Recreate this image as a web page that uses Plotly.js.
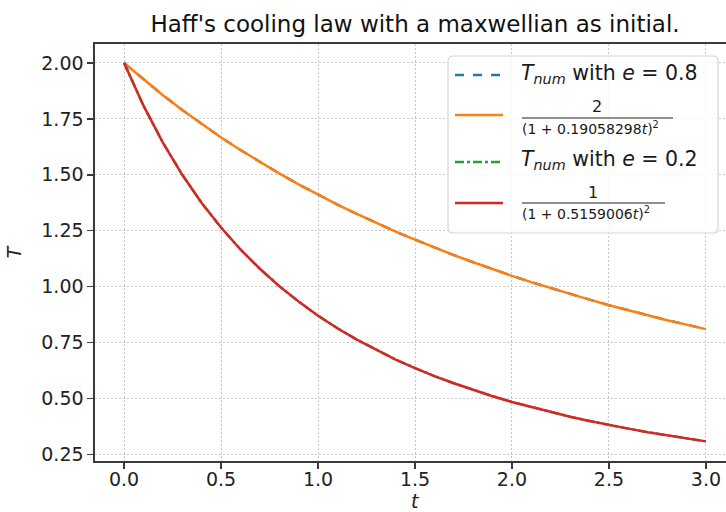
<!DOCTYPE html>
<html>
<head>
<meta charset="utf-8">
<script src="https://cdn.plot.ly/plotly-3.0.1.min.js"></script>
<style>
html, body { margin: 0; padding: 0; overflow: hidden; background: #fff; }
#chart { width: 735px; height: 512px; }
</style>
</head>
<body>
<div id="chart"></div>
<script>
// time samples
var tValues = [0.0, 0.1, 0.2, 0.3, 0.4, 0.5, 0.6, 0.7, 0.8, 0.9, 1.0,
               1.1, 1.2, 1.3, 1.4, 1.5, 1.6, 1.7, 1.8, 1.9, 2.0,
               2.1, 2.2, 2.3, 2.4, 2.5, 2.6, 2.7, 2.8, 2.9, 3.0];

// e = 0.8 : numerical and Haff law (curves overlap)
var tNumE08 = [2.000, 1.926, 1.856, 1.790, 1.727, 1.667, 1.611, 1.557, 1.506, 1.457, 1.411,
               1.367, 1.325, 1.285, 1.246, 1.210, 1.175, 1.141, 1.109, 1.078, 1.048,
               1.020, 0.993, 0.967, 0.942, 0.917, 0.894, 0.872, 0.850, 0.830, 0.810];
var haffE08 = [2.000, 1.926, 1.856, 1.790, 1.727, 1.667, 1.611, 1.557, 1.506, 1.457, 1.411,
               1.367, 1.325, 1.285, 1.246, 1.210, 1.175, 1.141, 1.109, 1.078, 1.048,
               1.020, 0.993, 0.967, 0.942, 0.917, 0.894, 0.872, 0.850, 0.830, 0.810];

// e = 0.2 : numerical and Haff law (curves overlap)
var tNumE02 = [2.000, 1.809, 1.644, 1.500, 1.374, 1.264, 1.166, 1.080, 1.002, 0.933, 0.870,
               0.814, 0.763, 0.717, 0.674, 0.636, 0.600, 0.568, 0.538, 0.510, 0.484,
               0.461, 0.439, 0.418, 0.399, 0.381, 0.365, 0.349, 0.335, 0.321, 0.308];
var haffE02 = [2.000, 1.809, 1.644, 1.500, 1.374, 1.264, 1.166, 1.080, 1.002, 0.933, 0.870,
               0.814, 0.763, 0.717, 0.674, 0.636, 0.600, 0.568, 0.538, 0.510, 0.484,
               0.461, 0.439, 0.418, 0.399, 0.381, 0.365, 0.349, 0.335, 0.321, 0.308];

var xTicks = [0.0, 0.5, 1.0, 1.5, 2.0, 2.5, 3.0];
var xTickText = ['0.0', '0.5', '1.0', '1.5', '2.0', '2.5', '3.0'];
var yTicks = [0.25, 0.50, 0.75, 1.00, 1.25, 1.50, 1.75, 2.00];
var yTickText = ['0.25', '0.50', '0.75', '1.00', '1.25', '1.50', '1.75', '2.00'];

// legend texts
var NB = '\u00a0';
var legendNames = ['<i>T<sub>num</sub></i> with <i>e</i>' + NB + '=' + NB + '0.8',
                   '2', '(1 + 0.19058298<i>t</i>)<sup>2</sup>',
                   '<i>T<sub>num</sub></i> with <i>e</i>' + NB + '=' + NB + '0.2',
                   '1', '(1 + 0.5159006<i>t</i>)<sup>2</sup>'];
var colors = ['#1f77b4', '#ff7f0e', '#2ca02c', '#d62728'];

// ---------- geometry of the plot area (pixels) ----------
var W = 735, H = 512;
var M = {l: 95, r: 0, t: 44, b: 51};
var PW = W - M.l - M.r, PH = H - M.t - M.b;
function px(x) { return (x - M.l) / PW; }
function py(y) { return (H - M.b - y) / PH; }

var traces = [
  {x: tValues, y: tNumE08, mode: 'lines', name: 'Tnum e=0.8',
   line: {color: colors[0], width: 2.5, dash: 'dash'}},
  {x: tValues, y: haffE08, mode: 'lines', name: 'Haff e=0.8',
   line: {color: colors[1], width: 2.5}},
  {x: tValues, y: tNumE02, mode: 'lines', name: 'Tnum e=0.2',
   line: {color: colors[2], width: 2.5, dash: 'dashdot'}},
  {x: tValues, y: haffE02, mode: 'lines', name: 'Haff e=0.2',
   line: {color: colors[3], width: 2.5}}
];

// ---------- manual legend (box, sample lines, fraction bars) ----------
function roundedRect(x0, y0, x1, y1, r) {
  var X0 = px(x0), X1 = px(x1), Y0 = py(y0), Y1 = py(y1);
  var rx = r / PW, ry = r / PH;
  return 'M' + (X0 + rx) + ',' + Y0 +
         ' L' + (X1 - rx) + ',' + Y0 + ' Q' + X1 + ',' + Y0 + ' ' + X1 + ',' + (Y0 - ry) +
         ' L' + X1 + ',' + (Y1 + ry) + ' Q' + X1 + ',' + Y1 + ' ' + (X1 - rx) + ',' + Y1 +
         ' L' + (X0 + rx) + ',' + Y1 + ' Q' + X0 + ',' + Y1 + ' ' + X0 + ',' + (Y1 + ry) +
         ' L' + X0 + ',' + (Y0 - ry) + ' Q' + X0 + ',' + Y0 + ' ' + (X0 + rx) + ',' + Y0 + ' Z';
}
var shapes = [
  {type: 'path', xref: 'paper', yref: 'paper', path: roundedRect(448, 56, 718, 233, 5),
   fillcolor: 'rgba(255,255,255,0.8)', line: {color: '#d6d6d6', width: 1.2}, layer: 'above'}
];
var sampleY = [75, 115, 162, 203];
var dashes = ['dash', 'solid', 'dashdot', 'solid'];
for (var i = 0; i < 4; i++) {
  shapes.push({type: 'line', xref: 'paper', yref: 'paper',
    x0: px(455), x1: px(503), y0: py(sampleY[i]), y1: py(sampleY[i]),
    line: {color: colors[i], width: 2.5, dash: dashes[i]}, layer: 'above'});
}
// fraction bars
shapes.push({type: 'line', xref: 'paper', yref: 'paper', x0: px(522), x1: px(673),
  y0: py(118), y1: py(118), line: {color: '#222', width: 1.2}, layer: 'above'});
shapes.push({type: 'line', xref: 'paper', yref: 'paper', x0: px(522), x1: px(665),
  y0: py(203), y1: py(203), line: {color: '#222', width: 1.2}, layer: 'above'});

var bigF = {family: 'DejaVu Sans', size: 20.5, color: '#1a1a1a'};
var numF = {family: 'DejaVu Sans', size: 16, color: '#1a1a1a'};
var smF = {family: 'DejaVu Sans', size: 14, color: '#1a1a1a'};
function ann(text, x, y, anchor, font) {
  return {text: text, xref: 'paper', yref: 'paper', x: px(x), y: py(y),
          xanchor: anchor, yanchor: 'middle', showarrow: false, font: font};
}
var annotations = [
  ann(legendNames[0], 519, 74, 'left', bigF),
  ann(legendNames[1], 597, 107, 'center', numF),
  ann(legendNames[2], 520, 128, 'left', smF),
  ann(legendNames[3], 519, 160, 'left', bigF),
  ann(legendNames[4], 593, 192, 'center', numF),
  ann(legendNames[5], 520, 213, 'left', smF),
  // x axis title
  ann('<i>t</i>', 415, 501, 'center', {family: 'DejaVu Sans', size: 19, color: '#222'})
];

var axisCommon = {
  showline: true, mirror: true, linecolor: '#3a3a3a', linewidth: 1.6,
  ticks: 'outside', ticklen: 6, tickwidth: 1.5, tickcolor: '#3a3a3a',
  showgrid: true, gridcolor: '#c8c8c8', griddash: '2px,2px', gridwidth: 1,
  zeroline: false,
  tickfont: {family: 'DejaVu Sans', size: 19, color: '#222'}
};

var layout = {
  width: W, height: H,
  margin: {l: M.l, r: M.r, t: M.t, b: M.b, pad: 0},
  paper_bgcolor: '#fff', plot_bgcolor: '#fff',
  title: {text: "Haff's cooling law with a maxwellian as initial.",
          font: {family: 'DejaVu Sans', size: 23, color: '#111'},
          x: 0.5, xref: 'paper', xanchor: 'center', y: 1 - 24 / H, yref: 'container', yanchor: 'middle'},
  xaxis: Object.assign({}, axisCommon, {
    range: [-0.15, 3.15], tickvals: xTicks, ticktext: xTickText, automargin: false,
    ticklabelstandoff: -5
  }),
  yaxis: Object.assign({}, axisCommon, {
    range: [0.2203, 2.0848], tickvals: yTicks, ticktext: yTickText, automargin: false,
    title: {text: '<i>T</i>', font: {family: 'DejaVu Sans', size: 19, color: '#222'}, standoff: 14}
  }),
  showlegend: false,
  shapes: shapes,
  annotations: annotations
};

Plotly.newPlot('chart', traces, layout, {displayModeBar: false, staticPlot: true});
</script>
</body>
</html>
